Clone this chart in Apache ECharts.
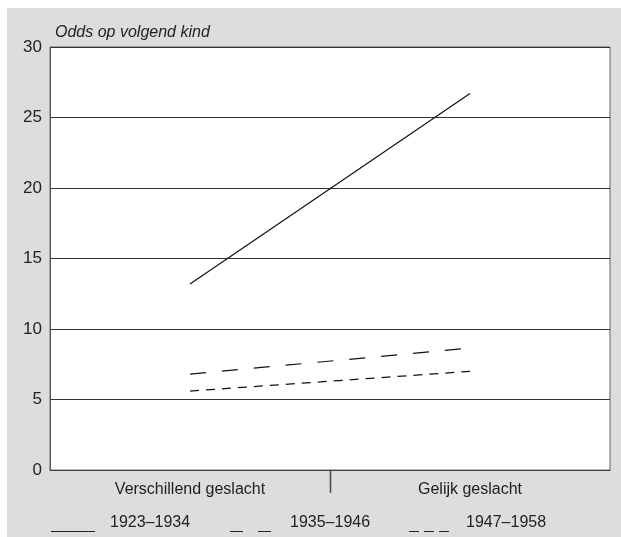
<!DOCTYPE html>
<html>
<head>
<meta charset="utf-8">
<script src="https://cdn.jsdelivr.net/npm/echarts@6/dist/echarts.min.js"></script>
<style>
  html, body { margin: 0; padding: 0; background: #fff; }
  #chart { width: 621px; height: 537px; }
</style>
</head>
<body>
<div id="chart"></div>
<script>
// categorie-as
var categories = ['Verschillend geslacht', 'Gelijk geslacht'];

// odds per cohort
var cohort1 = [13.2, 26.7];  // 1923–1934
var cohort2 = [6.8, 8.65];   // 1935–1946
var cohort3 = [5.6, 7.0];    // 1947–1958

var seriesNames = ['1923–1934', '1935–1946', '1947–1958'];
var yTicks = [0, 5, 10, 15, 20, 25, 30];

var chart = echarts.init(document.getElementById('chart'));
var font = '"Liberation Sans", Arial, sans-serif';

function lineSeries(name, data, dash) {
    return {
        name: name,
        type: 'line',
        data: data,
        symbol: 'none',
        silent: true,
        lineStyle: { color: '#111', width: 1.2, type: dash }
    };
}

// legenda met de hand: lijnstukje op de basislijn, tekst erachter
var legendItems = [
    { x: 51, w: 44, dash: null, tx: 110 },
    { x: 230, w: 44, dash: [13, 15], tx: 290 },
    { x: 409, w: 40, dash: [10, 5], tx: 466 }
];
var legendGraphics = [];
legendItems.forEach(function (it, i) {
    legendGraphics.push({
        type: 'line',
        silent: true,
        shape: { x1: it.x, y1: 531.5, x2: it.x + it.w, y2: 531.5 },
        style: { stroke: '#222', lineWidth: 1, lineDash: it.dash }
    });
    legendGraphics.push({
        type: 'text',
        silent: true,
        x: it.tx,
        y: 523,
        style: {
            text: seriesNames[i],
            fontFamily: font,
            fontSize: 16,
            fill: '#222',
            verticalAlign: 'middle'
        }
    });
});

var option = {
    backgroundColor: '#fff',
    animation: false,
    graphic: [{
        type: 'rect',
        z: -10,
        silent: true,
        shape: { x: 7, y: 8, width: 614, height: 529 },
        style: { fill: '#dcdddf' }
    }].concat(legendGraphics),
    title: {
        text: 'Odds op volgend kind',
        left: 50,
        top: 20,
        textStyle: { fontFamily: font, fontSize: 16, fontStyle: 'italic', fontWeight: 'normal', color: '#222' }
    },
    grid: {
        left: 50,
        right: 11,
        top: 47,
        bottom: 67,
        show: true,
        backgroundColor: '#fff',
        borderColor: '#666',
        borderWidth: 1
    },
    xAxis: {
        type: 'category',
        data: categories,
        boundaryGap: true,
        axisLine: { lineStyle: { color: '#444', width: 1 } },
        axisTick: { show: false },
        axisLabel: { fontFamily: font, fontSize: 16, color: '#222', margin: 12 }
    },
    yAxis: {
        type: 'value',
        min: yTicks[0],
        max: yTicks[yTicks.length - 1],
        interval: 5,
        axisLine: { show: true, lineStyle: { color: '#555' } },
        axisTick: { show: false },
        splitLine: { lineStyle: { color: '#333', width: 1 } },
        axisLabel: { fontFamily: font, fontSize: 17, color: '#222', margin: 8 }
    },
    series: [
        lineSeries(seriesNames[0], cohort1, 'solid'),
        lineSeries(seriesNames[1], cohort2, [16, 16]),
        lineSeries(seriesNames[2], cohort3, [9, 7])
    ]
};
chart.setOption(option);

// alleen het middelste streepje tussen de twee categorieën
var p0 = chart.convertToPixel({ xAxisIndex: 0, yAxisIndex: 0 }, [0, 0]);
var p1 = chart.convertToPixel({ xAxisIndex: 0, yAxisIndex: 0 }, [1, 0]);
var midX = Math.round((p0[0] + p1[0]) / 2) + 0.5;
chart.setOption({
    graphic: option.graphic.concat([{
        type: 'line',
        silent: true,
        shape: { x1: midX, y1: p0[1], x2: midX, y2: p0[1] + 23 },
        style: { stroke: '#444', lineWidth: 1.5 }
    }])
});
</script>
</body>
</html>
